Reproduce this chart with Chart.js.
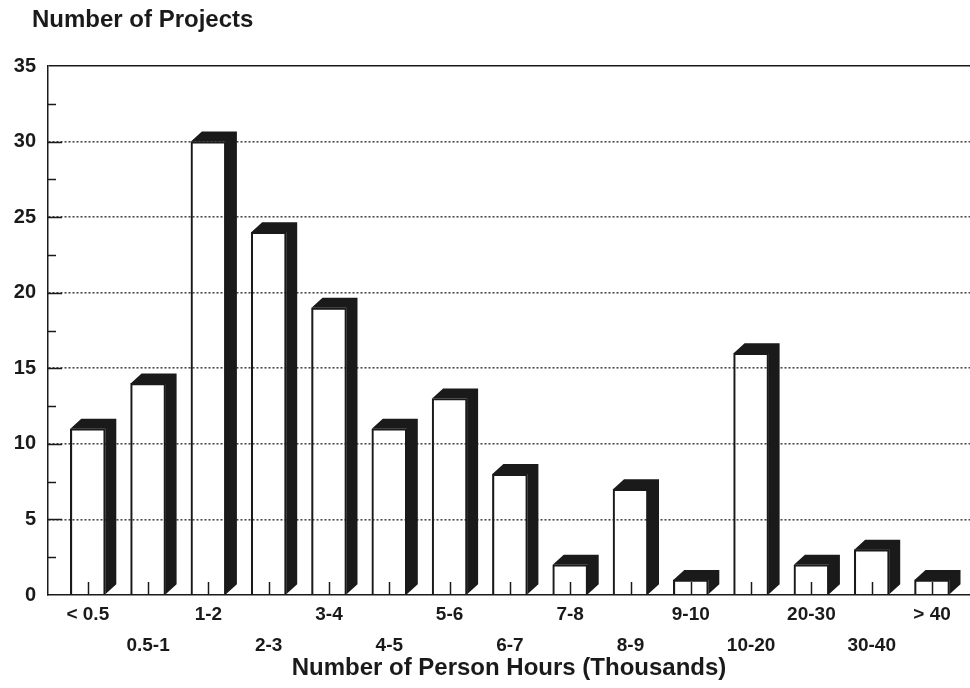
<!DOCTYPE html>
<html>
<head>
<meta charset="utf-8">
<title>Number of Projects by Person Hours</title>
<script src="https://cdn.jsdelivr.net/npm/chart.js@4/dist/chart.umd.min.js"></script>
<style>
  html, body { margin: 0; padding: 0; background: #ffffff; }
  #wrap { width: 970px; height: 688px; position: relative; }
</style>
</head>
<body>
<div id="wrap"><canvas id="chart"></canvas></div>
<script>
// Project-size histogram: person hours (thousands) vs. number of projects
const categories = ['< 0.5', '0.5-1', '1-2', '2-3', '3-4', '4-5', '5-6', '6-7', '7-8', '8-9', '9-10', '10-20', '20-30', '30-40', '> 40'];
const projectCounts = [11, 14, 30, 24, 19, 11, 13, 8, 2, 7, 1, 16, 2, 3, 1];
const yTickLabels = [0, 5, 10, 15, 20, 25, 30, 35];
const chartTitle = 'Number of Projects';
const xAxisTitle = 'Number of Person Hours (Thousands)';

const FONT = "'Liberation Sans', Arial, Helvetica, sans-serif";
const INK = '#1a1a1a';
const DEPTH_X = 11;   // horizontal depth of the 3-D extrusion
const DEPTH_Y = 10;   // vertical depth of the 3-D extrusion

// Draws the dark side/top faces of each bar plus the inward tick marks
const extrudedBars = {
  id: 'extrudedBars',
  afterDatasetsDraw(chart) {
    const { ctx } = chart;
    const xs = chart.scales.x;
    const ys = chart.scales.y;
    const meta = chart.getDatasetMeta(0);

    ctx.save();
    ctx.fillStyle = INK;
    meta.data.forEach(bar => {
      const { x, y, base, width } = bar.getProps(['x', 'y', 'base', 'width'], true);
      const l = x - width / 2;
      const r = x + width / 2;
      ctx.beginPath();
      ctx.moveTo(l, y);
      ctx.lineTo(l + DEPTH_X, y - DEPTH_Y);
      ctx.lineTo(r + DEPTH_X, y - DEPTH_Y);
      ctx.lineTo(r + DEPTH_X, base - DEPTH_Y);
      ctx.lineTo(r, base);
      ctx.lineTo(r, y);
      ctx.closePath();
      ctx.fill();
    });

    // category tick marks rising from the x axis
    ctx.strokeStyle = INK;
    ctx.lineWidth = 1.5;
    xs.ticks.forEach(t => {
      const px = Math.round(xs.getPixelForValue(t.value)) + 0.5;
      ctx.beginPath();
      ctx.moveTo(px, ys.bottom);
      ctx.lineTo(px, ys.bottom - 13);
      ctx.stroke();
    });

    // major / minor tick marks pointing into the plot from the y axis
    ys.ticks.forEach(t => {
      if (t.value <= ys.min || t.value >= ys.max) return;
      const py = Math.round(ys.getPixelForValue(t.value)) + 0.5;
      const len = yTickLabels.includes(t.value) ? 14 : 8;
      ctx.beginPath();
      ctx.moveTo(xs.left, py);
      ctx.lineTo(xs.left + len, py);
      ctx.stroke();
    });
    ctx.restore();
  },
  // heading above the value axis, set flush with the plot's left margin
  afterDraw(chart) {
    const { ctx } = chart;
    ctx.save();
    ctx.fillStyle = INK;
    ctx.font = `bold 24px ${FONT}`;
    ctx.textAlign = 'left';
    ctx.textBaseline = 'alphabetic';
    ctx.fillText(chartTitle, 32, 27);
    ctx.restore();
  }
};

new Chart(document.getElementById('chart'), {
  type: 'bar',
  data: {
    datasets: [{
      data: projectCounts.map((v, i) => ({ x: i, y: v })),
      backgroundColor: 'rgba(255,255,255,0)',
      borderColor: INK,
      borderWidth: 1.5,
      barThickness: 35
    }]
  },
  options: {
    responsive: true,
    maintainAspectRatio: false,
    animation: false,
    layout: { padding: { left: 0, top: 66, right: 0, bottom: 0 } },
    plugins: {
      legend: { display: false },
      tooltip: { enabled: false },
      title: { display: false }
    },
    scales: {
      x: {
        type: 'linear',
        min: -0.66,
        max: 14.63,
        offset: false,
        afterBuildTicks: s => { s.ticks = categories.map((_, i) => ({ value: i })); },
        afterFit: s => { s.height = 93; },
        grid: { display: false, drawTicks: false, offset: false },
        border: { display: true, color: INK, width: 1.5 },
        ticks: {
          autoSkip: false,
          maxRotation: 0,
          minRotation: 0,
          padding: 4,
          color: INK,
          font: { family: FONT, size: 19, weight: 'bold', lineHeight: 1.63 },
          callback: (v, i) => (i % 2 === 0 ? [categories[i], ''] : ['', categories[i]])
        },
        title: {
          display: true,
          text: xAxisTitle,
          color: INK,
          font: { family: FONT, size: 24, weight: 'bold', lineHeight: 1.2 },
          padding: { top: 0, bottom: 5 }
        }
      },
      y: {
        min: 0,
        max: 35,
        afterFit: s => { s.width = 48; },
        ticks: {
          stepSize: 2.5,
          autoSkip: false,
          padding: 12,
          color: INK,
          font: { family: FONT, size: 20, weight: 'bold' },
          callback: v => (yTickLabels.includes(v) ? String(v) : '')
        },
        grid: {
          drawTicks: false,
          color: c => {
            const v = c.tick ? c.tick.value : null;
            if (v === 35) return INK;
            if (v !== null && v > 0 && yTickLabels.includes(v)) return '#4a4a4a';
            return 'rgba(0,0,0,0)';
          },
          lineWidth: c => (c.tick && c.tick.value === 35 ? 1.5 : 1.6)
        },
        border: {
          display: true,
          color: INK,
          width: 1.5,
          dash: c => (c.tick && c.tick.value !== 35 ? [2, 2] : [])
        }
      }
    }
  },
  plugins: [extrudedBars]
});
</script>
</body>
</html>
